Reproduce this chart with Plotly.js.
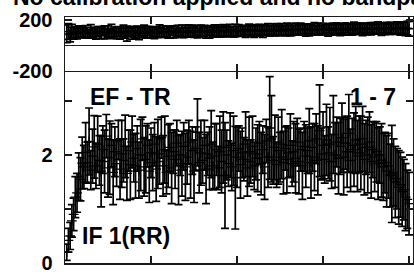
<!DOCTYPE html>
<html>
<head>
<meta charset="utf-8">
<script src="https://cdn.plot.ly/plotly-3.0.1.min.js"></script>
<style>
html,body{margin:0;padding:0;background:#fff;overflow:hidden;}
#chart{width:414px;height:275px;}
</style>
</head>
<body>
<div id="chart"></div>
<script>
// Amplitude per channel (channels 1..200)
var amp = [
0.20,0.42,0.50,0.78,0.90,1.22,1.30,1.60,1.55,1.85,
1.78,2.05,1.86,2.25,1.72,1.98,2.15,1.80,2.20,1.90,
1.70,2.10,1.88,2.35,1.76,1.95,2.18,1.68,2.06,1.84,
2.28,1.74,2.02,1.90,2.16,1.66,2.08,1.82,2.24,1.94,
1.80,2.12,1.72,2.00,2.30,1.78,1.92,2.18,1.70,2.04,
1.86,2.20,1.74,2.02,1.88,2.32,1.80,2.10,1.68,1.98,
2.14,1.76,2.06,1.92,2.22,1.72,2.00,1.84,2.16,1.78,
1.96,2.24,1.82,2.08,1.70,2.12,2.42,1.86,2.04,1.90,
2.18,1.74,2.02,1.94,2.20,1.80,1.98,2.10,1.76,2.06,
1.88,2.14,1.62,2.00,1.84,2.18,1.78,2.08,1.58,1.96,
2.12,1.82,2.04,1.92,2.20,1.76,2.06,1.88,2.16,1.80,
2.02,1.94,2.22,1.84,2.10,1.78,2.26,1.96,2.50,2.30,
1.90,2.14,1.82,2.08,1.96,2.20,1.86,2.12,1.92,2.04,
2.18,1.84,2.06,1.94,2.24,1.88,2.10,1.80,2.16,1.98,
2.08,2.26,1.86,2.14,1.96,2.30,1.90,2.45,2.02,2.18,
1.92,2.28,2.04,2.20,1.88,2.38,2.00,2.24,1.94,2.16,
2.32,1.96,2.22,2.06,2.40,1.90,2.18,2.10,2.28,1.98,
2.20,2.04,2.30,1.92,2.14,2.00,2.24,1.88,2.10,1.96,
2.06,1.84,2.00,1.90,1.78,1.86,1.70,1.80,1.62,1.65,
1.68,1.50,1.56,1.40,1.45,1.32,1.36,1.22,1.18,1.10
];
var ampErr = [
0.15,0.22,0.25,0.30,0.30,0.38,0.36,0.44,0.40,0.48,
0.40,0.55,0.38,0.62,0.36,0.50,0.58,0.42,0.52,0.46,
0.66,0.44,0.58,0.40,0.54,0.68,0.40,0.60,0.46,0.42,
0.36,0.56,0.62,0.40,0.58,0.50,0.38,0.64,0.48,0.44,
0.60,0.42,0.52,0.66,0.40,0.54,0.62,0.40,0.58,0.46,
0.52,0.40,0.60,0.64,0.42,0.38,0.56,0.62,0.40,0.58,
0.44,0.66,0.40,0.54,0.42,0.64,0.38,0.60,0.44,0.62,
0.50,0.40,0.62,0.44,0.58,0.40,0.62,0.56,0.60,0.42,
0.46,0.64,0.40,0.58,0.62,0.44,0.60,0.48,0.40,0.66,
0.58,0.66,0.98,0.46,0.42,0.60,0.44,0.64,0.95,0.56,
0.42,0.62,0.46,0.40,0.60,0.52,0.64,0.40,0.56,0.44,
0.48,0.62,0.40,0.58,0.44,0.60,0.40,0.56,0.95,0.80,
0.44,0.60,0.42,0.62,0.46,0.64,0.58,0.40,0.62,0.46,
0.58,0.42,0.56,0.64,0.44,0.60,0.40,0.62,0.46,0.58,
0.42,0.60,0.66,0.44,0.62,0.46,0.64,0.85,0.48,0.62,
0.44,0.66,0.48,0.68,0.50,0.72,0.60,0.46,0.66,0.52,
0.64,0.70,0.48,0.66,0.72,0.58,0.50,0.68,0.62,0.66,
0.52,0.68,0.60,0.66,0.50,0.70,0.56,0.68,0.52,0.64,
0.56,0.66,0.52,0.68,0.62,0.56,0.66,0.60,0.58,0.90,
0.62,0.66,0.56,0.68,0.60,0.64,0.56,0.62,0.54,0.58
];
// Phase (degrees) per channel
var phase = [
90,108,84,112,95,103,91,110,97,106,
94,107,99,90,112,97,104,93,109,100,
95,110,101,91,107,97,114,94,105,99,
108,95,103,112,98,92,109,101,96,106,
102,113,94,107,99,110,96,104,114,100,
108,98,106,95,111,102,107,97,110,104,
100,112,105,98,109,115,102,110,98,111,
105,114,100,111,104,116,107,101,112,108,
114,104,111,102,117,106,112,104,115,108,
104,117,109,113,106,119,110,106,116,112,
117,108,113,119,109,116,121,111,117,110,
120,112,118,122,110,120,115,124,113,118,
122,114,123,117,112,125,118,115,126,119,
116,124,120,127,117,122,128,118,125,120,
129,120,125,117,130,121,126,131,119,127,
123,132,120,128,125,133,121,129,126,122,
133,124,129,134,125,130,122,135,127,131,
128,136,124,132,129,126,137,130,127,133,
129,138,131,126,134,130,139,128,133,136,
131,126,137,132,129,138,134,127,135,130
];
var phaseErr = [
70,62,58,52,48,45,42,44,40,42,
34,48,40,32,50,42,36,46,38,48,
42,34,52,38,46,32,50,42,36,47,
40,48,34,46,42,60,38,34,48,42,
46,38,50,34,42,48,38,46,34,42,
38,47,42,34,50,38,46,32,42,48,
42,34,48,38,46,42,34,48,38,46,
38,46,34,48,42,38,50,34,46,38,
42,48,34,46,38,42,48,34,46,42,
38,46,42,48,34,46,38,42,48,38,
46,38,42,34,48,38,46,42,34,48,
42,38,46,34,48,42,38,46,42,34,
46,38,48,42,34,46,38,42,48,38,
42,46,34,48,38,42,46,38,34,48,
38,46,42,34,48,38,46,42,34,46,
42,38,48,34,46,42,38,48,34,46,
38,42,48,34,46,38,42,48,38,46,
42,34,48,38,46,42,38,48,34,46,
38,46,42,48,34,46,42,38,48,42,
46,38,48,42,50,44,48,52,54,58
];
var channels = amp.map(function(_, i){ return i + 1; });

var titleText = "No calibration applied and no bandpass applied";
var baselineLabel = "EF - TR";
var channelLabel = "1 - 7";
var ifLabel = "IF 1(RR)";
var ampTickVals = [0, 1, 2, 3];
var ampTickText = ["0", "", "2", ""];
var phaseTickVals = [-200, 200];
var phaseTickText = ["-200", "200"];
var chanTickVals = [0, 50, 100, 150, 200];

var FONT = "Liberation Sans, Arial, Helvetica, sans-serif";
var ink = "#000";

function errTrace(y, err, xa, ya) {
  return {
    x: channels, y: y, xaxis: xa, yaxis: ya,
    type: "scatter", mode: "markers",
    marker: {symbol: "cross-thin-open", size: 7, color: ink, line: {color: ink, width: 1.3}},
    error_y: {type: "data", array: err, visible: true, color: "#000", thickness: 1.7, width: 4},
    showlegend: false, hoverinfo: "skip"
  };
}

var data = [
  errTrace(amp, ampErr, "x", "y"),
  errTrace(phase, phaseErr, "x2", "y2")
];

var split = (263 - 72) / 246;
var split2 = (263 - 70.5) / 246;
var axCommon = {
  showgrid: false, zeroline: false, showline: true, linecolor: "#1a1a1a", linewidth: 1.5,
  ticks: "inside", ticklen: 7, tickwidth: 1.3, tickcolor: "#1a1a1a", mirror: "ticks",
  tickfont: {family: FONT, size: 20, color: ink, weight: "bold"}
};

var layout = {
  width: 414, height: 275,
  margin: {l: 65, r: 1, t: 17, b: 12, pad: 0},
  paper_bgcolor: "#fff", plot_bgcolor: "#fff",
  showlegend: false,
  xaxis: Object.assign({}, axCommon, {
    domain: [0, 1], range: [0, 202.3], anchor: "y",
    tickvals: chanTickVals, showticklabels: false
  }),
  xaxis2: Object.assign({}, axCommon, {
    domain: [0, 1], range: [0, 202.3], anchor: "y2", matches: "x",
    tickvals: chanTickVals, showticklabels: false
  }),
  yaxis: Object.assign({}, axCommon, {
    domain: [0, split], range: [0, 3.537], anchor: "x",
    tickvals: ampTickVals, ticktext: ampTickText, ticklabelstandoff: 7
  }),
  yaxis2: Object.assign({}, axCommon, {
    domain: [split2, 1], range: [-200, 223], anchor: "x2",
    tickvals: phaseTickVals, ticktext: phaseTickText, ticklabelstandoff: 7,
    zeroline: true, zerolinecolor: "#222", zerolinewidth: 1.2
  }),
  annotations: [
    {text: "<b>" + titleText + "</b>", xref: "paper", yref: "paper",
     x: (12 - 65) / 348, y: (263 - 11) / 246, xanchor: "left", yanchor: "bottom",
     showarrow: false, font: {family: FONT, size: 23, color: ink}, borderpad: 0},
    {text: "<b>" + baselineLabel + "</b>", xref: "paper", yref: "paper",
     x: (130 - 65) / 348, y: (263 - 97) / 246, xanchor: "center", yanchor: "middle",
     showarrow: false, font: {family: FONT, size: 23, color: ink}},
    {text: "<b>" + channelLabel + "</b>", xref: "paper", yref: "paper",
     x: (373 - 65) / 348, y: (263 - 97) / 246, xanchor: "center", yanchor: "middle",
     showarrow: false, font: {family: FONT, size: 23, color: ink}},
    {text: "<b>" + ifLabel + "</b>", xref: "paper", yref: "paper",
     x: (126 - 65) / 348, y: (263 - 236) / 246, xanchor: "center", yanchor: "middle",
     showarrow: false, font: {family: FONT, size: 23, color: ink}}
  ]
};

Plotly.newPlot("chart", data, layout, {displayModeBar: false, staticPlot: true});
</script>
</body>
</html>
